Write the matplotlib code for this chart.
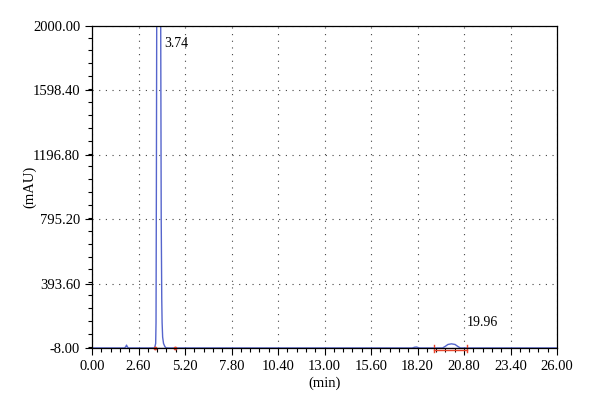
"""HPLC chromatogram (mAU vs min) with two labelled peaks."""

import matplotlib
matplotlib.use("Agg")
import matplotlib.pyplot as plt
from matplotlib.ticker import MultipleLocator, FormatStrFormatter

# trace (min, mAU)
time_min = [0.0, 1.80, 1.88, 1.93, 1.98, 2.05, 3.50, 3.56, 3.58, 3.60, 3.62,
            3.84, 3.87, 3.90, 3.92, 3.95, 4.00, 4.08, 4.15,
            17.90, 18.05, 18.15, 18.30, 19.60, 19.75, 19.90, 20.10, 20.30,
            20.45, 20.60, 26.0]
signal_mau = [-8, -8, -2, 10, -2, -8, -8, 20, 150, 1000, 2100,
              2100, 800, 300, 150, 60, 20, 0, -8,
              -8, -3, -2, -8, -8, 2, 14, 18, 14,
              2, -8, -8]

peak_labels = ["3.74", "19.96"]
label_pos = [(4.06, 1890), (20.95, 150)]

y_ticks = [-8.00, 393.60, 795.20, 1196.80, 1598.40, 2000.00]
x_ticks = [0.00, 2.60, 5.20, 7.80, 10.40, 13.00, 15.60, 18.20, 20.80, 23.40, 26.00]

# integration marks
int_start, int_end = 19.1, 20.97


def main():
    plt.rcParams["font.family"] = ["Liberation Serif", "DejaVu Serif"]
    fig = plt.figure(figsize=(6.0, 4.12), dpi=100)
    ax = fig.add_axes([92 / 600, 1 - 348 / 412, 465 / 600, 322 / 412])

    blue = "#5565cc"
    ax.plot(time_min, signal_mau, color=blue, lw=1.0)
    ax.axhline(-8, color=blue, lw=1.0)

    # integration baseline markers
    red = "#e8452c"
    ax.plot([int_start, int_end], [-22, -22], color=red, lw=1.0, clip_on=False)
    ax.plot([int_start, int_start], [12, -32], color=red, lw=1.0, clip_on=False)
    ax.plot([int_end, int_end], [12, -32], color=red, lw=1.0, clip_on=False)
    ax.plot([3.52, 4.64], [-8, -8], ls="none", marker="o", ms=1.8,
            color=red, clip_on=False)
    ax.plot([3.2, 4.2], [-8, -8], color="black", lw=0.8)
    ax.plot([17.95, 18.25], [-5, -5], color="black", lw=0.8)

    for (lx, ly), text in zip(label_pos, peak_labels):
        ax.text(lx, ly, text, fontsize=10, ha="left", va="center")

    ax.set_xlim(0, 26)
    ax.set_ylim(-8, 2000)
    ax.set_xticks(x_ticks)
    ax.set_yticks(y_ticks)
    ax.xaxis.set_major_formatter(FormatStrFormatter("%.2f"))
    ax.yaxis.set_major_formatter(FormatStrFormatter("%.2f"))
    ax.xaxis.set_minor_locator(MultipleLocator(0.52))
    ax.yaxis.set_minor_locator(MultipleLocator(80.32))
    ax.tick_params(which="major", direction="out", length=5, width=0.8,
                   labelsize=10.5, color="black")
    ax.tick_params(which="minor", direction="out", length=3, width=0.8)
    ax.grid(True, which="major", ls=(0, (1, 5)), color="#444444", lw=0.8)

    for s in ax.spines.values():
        s.set_linewidth(0.9)

    ax.set_xlabel("(min)", fontsize=10.5, labelpad=3)
    ax.set_ylabel("(mAU)", fontsize=10.5)
    ax.yaxis.set_label_coords(-0.12, 0.5)

    fig.savefig("out.png", dpi=100)
    plt.close(fig)


if __name__ == "__main__":
    main()
